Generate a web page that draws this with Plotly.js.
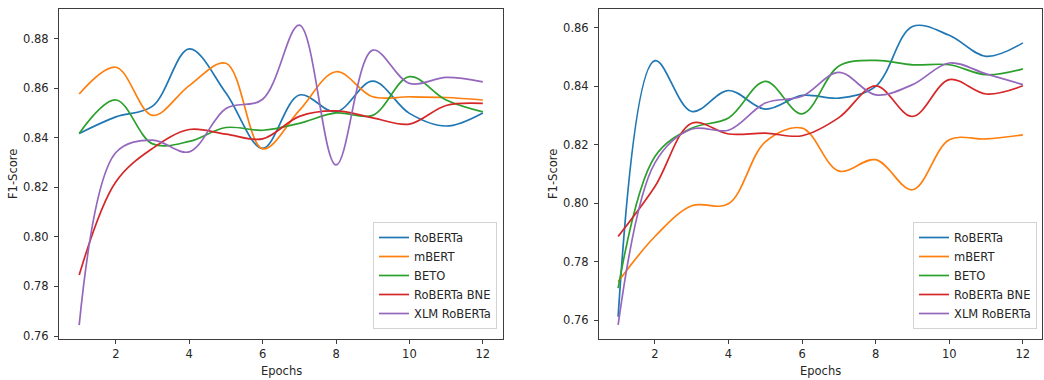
<!DOCTYPE html>
<html>
<head>
<meta charset="utf-8">
<script src="https://cdn.plot.ly/plotly-3.0.1.min.js"></script>
<style>html,body{margin:0;padding:0;background:#fff;}#chart{width:1044px;height:380px;}</style>
</head>
<body>
<div id="chart"></div>
<script>
const epochs = [1, 2, 3, 4, 5, 6, 7, 8, 9, 10, 11, 12];
const seriesNames = ["RoBERTa", "mBERT", "BETO", "RoBERTa BNE", "XLM RoBERTa"];
const seriesColors = ["#1f77b4", "#ff7f0e", "#2ca02c", "#d62728", "#9467bd"];

// Left panel
const robertaLeft = [0.8417, 0.8484, 0.8527, 0.8758, 0.8580, 0.8357, 0.8572, 0.8504, 0.8628, 0.8498, 0.8447, 0.8500];
const mbertLeft   = [0.8576, 0.8684, 0.8490, 0.8610, 0.8700, 0.8355, 0.8510, 0.8666, 0.8565, 0.8565, 0.8562, 0.8552];
const betoLeft    = [0.8417, 0.8552, 0.8375, 0.8385, 0.8441, 0.8430, 0.8458, 0.8500, 0.8490, 0.8646, 0.8552, 0.8504];
const rbneLeft    = [0.7846, 0.8222, 0.8357, 0.8433, 0.8414, 0.8395, 0.8486, 0.8508, 0.8480, 0.8455, 0.8530, 0.8538];
const xlmLeft     = [0.7644, 0.8340, 0.8390, 0.8343, 0.8518, 0.8555, 0.8854, 0.8290, 0.8753, 0.8619, 0.8643, 0.8625];

// Right panel
const robertaRight = [0.7611, 0.8488, 0.8314, 0.8386, 0.8322, 0.8369, 0.8360, 0.8400, 0.8605, 0.8575, 0.8503, 0.8549];
const mbertRight   = [0.7731, 0.7886, 0.7991, 0.7998, 0.8210, 0.8257, 0.8110, 0.8149, 0.8046, 0.8217, 0.8220, 0.8234];
const betoRight    = [0.7709, 0.8160, 0.8257, 0.8292, 0.8417, 0.8306, 0.8470, 0.8489, 0.8474, 0.8474, 0.8440, 0.8460];
const rbneRight    = [0.7886, 0.8057, 0.8274, 0.8237, 0.8240, 0.8231, 0.8293, 0.8402, 0.8297, 0.8423, 0.8374, 0.8402];
const xlmRight     = [0.7583, 0.8138, 0.8254, 0.8250, 0.8343, 0.8366, 0.8448, 0.8371, 0.8406, 0.8480, 0.8443, 0.8406];

const leftSeries = [robertaLeft, mbertLeft, betoLeft, rbneLeft, xlmLeft];
const rightSeries = [robertaRight, mbertRight, betoRight, rbneRight, xlmRight];

const xTicks = [2, 4, 6, 8, 10, 12];
const yTicksLeft = [0.76, 0.78, 0.80, 0.82, 0.84, 0.86, 0.88];
const yTicksRight = [0.76, 0.78, 0.80, 0.82, 0.84, 0.86];

const traces = [];
leftSeries.forEach((ys, i) => {
  traces.push({x: epochs, y: ys, type: 'scatter', mode: 'lines', name: seriesNames[i],
    line: {color: seriesColors[i], width: 1.7, shape: 'spline', smoothing: 1},
    xaxis: 'x', yaxis: 'y', legend: 'legend'});
});
rightSeries.forEach((ys, i) => {
  traces.push({x: epochs, y: ys, type: 'scatter', mode: 'lines', name: seriesNames[i],
    line: {color: seriesColors[i], width: 1.7, shape: 'spline', smoothing: 1},
    xaxis: 'x2', yaxis: 'y2', legend: 'legend2'});
});

const W = 1044, H = 380;
const font = {family: 'DejaVu Sans', size: 11.5, color: '#262626'};
const axisCommon = {
  showline: true, mirror: true, linecolor: '#3d3d3d', linewidth: 1,
  ticks: 'outside', ticklen: 4, tickwidth: 1, tickcolor: '#3d3d3d',
  showgrid: false, zeroline: false, tickfont: font, automargin: false
};
const legendCommon = {
  font: font, bgcolor: 'rgba(255,255,255,0.85)', bordercolor: '#d3d3d3', borderwidth: 1,
  xanchor: 'right', yanchor: 'bottom', tracegroupgap: 0, itemwidth: 30
};
const titleFont = {family: 'DejaVu Sans', size: 11.5, color: '#262626'};

const layout = {
  width: W, height: H,
  margin: {l: 0, r: 0, t: 0, b: 0},
  paper_bgcolor: '#fff', plot_bgcolor: '#fff',
  font: font,
  xaxis: Object.assign({}, axisCommon, {domain: [59 / W, 503 / W], range: [0.45, 12.55], tickvals: xTicks, anchor: 'y'}),
  yaxis: Object.assign({}, axisCommon, {domain: [1 - 339 / H, 1 - 9 / H], range: [0.7588, 0.8919], tickvals: yTicksLeft, tickformat: '.2f', anchor: 'x', ticklabelstandoff: 3}),
  xaxis2: Object.assign({}, axisCommon, {domain: [599 / W, 1042 / W], range: [0.48, 12.52], tickvals: xTicks, anchor: 'y2'}),
  yaxis2: Object.assign({}, axisCommon, {domain: [1 - 339 / H, 1 - 9 / H], range: [0.7535, 0.8665], tickvals: yTicksRight, tickformat: '.2f', anchor: 'x2', ticklabelstandoff: 3}),
  legend: Object.assign({}, legendCommon, {x: 497 / W, y: 1 - 329 / H}),
  legend2: Object.assign({}, legendCommon, {x: 1037 / W, y: 1 - 329 / H}),
  showlegend: true,
  annotations: [
    {text: 'F1-Score', xref: 'paper', yref: 'paper', x: 13 / W, y: 1 - 174 / H, textangle: -90, showarrow: false, font: titleFont, xanchor: 'center', yanchor: 'middle'},
    {text: 'F1-Score', xref: 'paper', yref: 'paper', x: 553 / W, y: 1 - 174 / H, textangle: -90, showarrow: false, font: titleFont, xanchor: 'center', yanchor: 'middle'},
    {text: 'Epochs', xref: 'paper', yref: 'paper', x: 281 / W, y: 1 - 371 / H, showarrow: false, font: titleFont, xanchor: 'center', yanchor: 'middle'},
    {text: 'Epochs', xref: 'paper', yref: 'paper', x: 820.5 / W, y: 1 - 371 / H, showarrow: false, font: titleFont, xanchor: 'center', yanchor: 'middle'}
  ]
};

Plotly.newPlot('chart', traces, layout, {staticPlot: true, displayModeBar: false});
</script>
</body>
</html>
